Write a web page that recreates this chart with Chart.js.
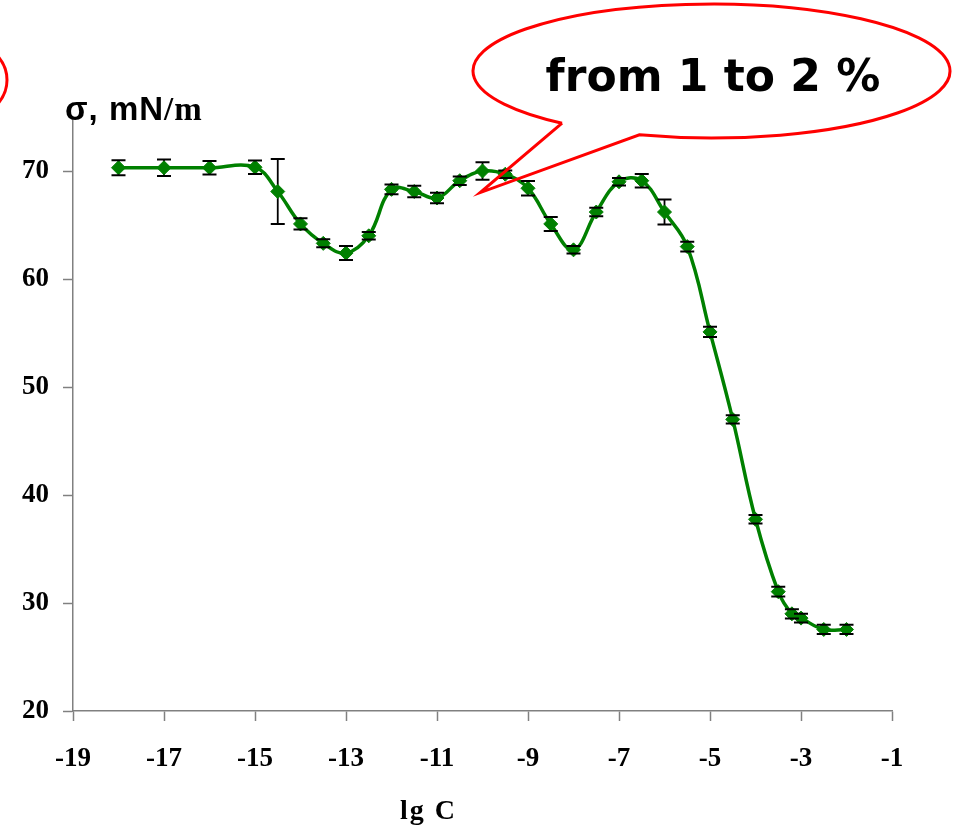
<!DOCTYPE html>
<html>
<head>
<meta charset="utf-8">
<script src="https://cdn.jsdelivr.net/npm/chart.js@4.4.1/dist/chart.umd.min.js"></script>
<style>
  body { margin: 0; background: #fff; }
  #wrap { width: 954px; height: 835px; }
</style>
</head>
<body>
<div id="wrap"><canvas id="myChart" width="954" height="835"></canvas></div>
<script>
// lg C values (x) of the measured points
const lgC = [-18, -17, -16, -15, -14.5, -14, -13.5, -13, -12.5, -12, -11.5, -11, -10.5, -10, -9.5,
  -9, -8.5, -8, -7.5, -7, -6.5, -6, -5.5, -5, -4.5, -4, -3.5, -3.2, -3, -2.5, -2];
// surface tension, mN/m
const sigma = [70.3, 70.3, 70.3, 70.35, 68.1, 65.1, 63.3, 62.4, 64.0, 68.3, 68.1, 67.5, 69.1, 70.0, 69.7,
  68.4, 65.1, 62.7, 66.2, 69.0, 69.1, 66.2, 63.0, 55.1, 47.0, 37.75, 31.05, 29.0, 28.6, 27.55, 27.55];
// +/- error
const sigmaErr = [0.7, 0.77, 0.62, 0.62, 3.0, 0.52, 0.37, 0.65, 0.35, 0.46, 0.54, 0.48, 0.39, 0.82, 0.34,
  0.68, 0.65, 0.35, 0.4, 0.35, 0.62, 1.16, 0.46, 0.48, 0.39, 0.4, 0.45, 0.43, 0.4, 0.43, 0.43];

const xTicks = [-19, -17, -15, -13, -11, -9, -7, -5, -3, -1];
const yTicks = [20, 30, 40, 50, 60, 70];

const calloutText = 'from 1 to 2 %';

const green = '#008000';
const axisGray = '#808080';

// error bars: stems under the line, caps on top
function errPixels(chart, i) {
  const xs = chart.scales.x, ys = chart.scales.y;
  return {
    px: xs.getPixelForValue(lgC[i]),
    top: ys.getPixelForValue(sigma[i] + sigmaErr[i]),
    bot: ys.getPixelForValue(sigma[i] - sigmaErr[i])
  };
}
const errorBars = {
  id: 'errorBars',
  beforeDatasetsDraw(chart) {
    const ctx = chart.ctx;
    ctx.save();
    ctx.strokeStyle = '#000';
    ctx.lineWidth = 1.8;
    for (let i = 0; i < lgC.length; i++) {
      const p = errPixels(chart, i);
      ctx.beginPath();
      ctx.moveTo(p.px, p.top);
      ctx.lineTo(p.px, p.bot);
      ctx.stroke();
    }
    ctx.restore();
  },
  afterDatasetsDraw(chart) {
    const ctx = chart.ctx;
    ctx.save();
    ctx.strokeStyle = '#000';
    ctx.lineWidth = 2;
    for (let i = 0; i < lgC.length; i++) {
      const p = errPixels(chart, i);
      ctx.beginPath();
      ctx.moveTo(p.px - 7, p.top); ctx.lineTo(p.px + 7, p.top);
      ctx.moveTo(p.px - 7, p.bot); ctx.lineTo(p.px + 7, p.bot);
      ctx.stroke();
    }
    ctx.restore();
  }
};

// axis titles and the speech bubble
const decorations = {
  id: 'decorations',
  afterDraw(chart) {
    const ctx = chart.ctx;
    const xs = chart.scales.x, ys = chart.scales.y;
    ctx.save();

    // axis titles
    ctx.fillStyle = '#000';
    ctx.textBaseline = 'alphabetic';
    ctx.textAlign = 'left';
    ctx.letterSpacing = '1px';
    ctx.font = 'bold 33px "Liberation Sans", Arial, sans-serif';
    ctx.fillText('σ, mN', 65, 120);
    const w = ctx.measureText('σ, mN').width;
    ctx.font = 'bold 33px "Liberation Serif", "Times New Roman", serif';
    ctx.fillText('/m', 65 + w, 120);

    ctx.letterSpacing = '2px';
    ctx.font = 'bold 28px "Liberation Serif", "Times New Roman", serif';
    ctx.fillText('lg C', 400, 819);
    ctx.letterSpacing = '0px';

    // partial bubble on the left edge
    ctx.strokeStyle = '#ff0000';
    ctx.lineWidth = 3;
    ctx.beginPath();
    ctx.ellipse(-55, 80, 62, 45, 0, 0, Math.PI * 2);
    ctx.stroke();

    // speech bubble
    const cx = 711.5, cy = 71, rx = 238.5, ry = 67;
    const tA = 128.8 * Math.PI / 180, tB = 107.6 * Math.PI / 180;
    const tipX = xs.getPixelForValue(-10.05), tipY = ys.getPixelForValue(68.0);
    ctx.fillStyle = '#fff';
    ctx.beginPath();
    ctx.ellipse(cx, cy, rx, ry, 0, 0, Math.PI * 2);
    ctx.fill();
    ctx.beginPath();
    ctx.ellipse(cx, cy, rx, ry, 0, tA, tB + Math.PI * 2);
    ctx.lineTo(tipX, tipY);
    ctx.lineTo(cx + rx * Math.cos(tA), cy + ry * Math.sin(tA));
    ctx.lineJoin = 'miter';
    ctx.stroke();

    ctx.fillStyle = '#000';
    ctx.font = 'bold 44px "Comic Sans MS", "DejaVu Sans", sans-serif';
    ctx.textAlign = 'center';
    ctx.fillText(calloutText, 713, 91);
    ctx.restore();
  }
};

document.addEventListener("DOMContentLoaded", function () {
  const ctx = document.getElementById('myChart').getContext('2d');

  new Chart(ctx, {
    type: 'line',
    data: {
      datasets: [{
        label: 'σ',
        data: lgC.map((x, i) => ({ x: x, y: sigma[i] })),
        borderColor: green,
        backgroundColor: green,
        borderWidth: 3.5,
        tension: 0.4,
        pointStyle: 'rectRot',
        pointRadius: 7,
        pointBackgroundColor: green,
        pointBorderColor: green,
        pointBorderWidth: 1
      }]
    },
    options: {
      responsive: false,
      animation: false,
      layout: { padding: { top: 117, right: 62, left: 0, bottom: 0 } },
      plugins: {
        legend: { display: false },
        tooltip: { enabled: false }
      },
      scales: {
        x: {
          type: 'linear',
          min: -19,
          max: -1,
          afterBuildTicks(scale) { scale.ticks = xTicks.map(v => ({ value: v })); },
          afterFit(scale) { scale.height = 124; },
          border: { color: axisGray, width: 1.5 },
          grid: { drawOnChartArea: false, drawTicks: true, tickLength: 10, color: axisGray, tickWidth: 1.5 },
          ticks: {
            padding: 22,
            color: '#000',
            maxRotation: 0,
            font: { family: '"Liberation Serif", "Times New Roman", serif', size: 27, weight: 'bold' }
          }
        },
        y: {
          type: 'linear',
          min: 20,
          max: 75,
          afterBuildTicks(scale) { scale.ticks = yTicks.map(v => ({ value: v })); },
          afterFit(scale) { scale.width = 73; },
          border: { color: axisGray, width: 1.5 },
          grid: { drawOnChartArea: false, drawTicks: true, tickLength: 10, color: axisGray, tickWidth: 1.5 },
          ticks: {
            padding: 14,
            color: '#000',
            font: { family: '"Liberation Serif", "Times New Roman", serif', size: 27, weight: 'bold' }
          }
        }
      }
    },
    plugins: [errorBars, decorations]
  });
});
</script>
</body>
</html>
